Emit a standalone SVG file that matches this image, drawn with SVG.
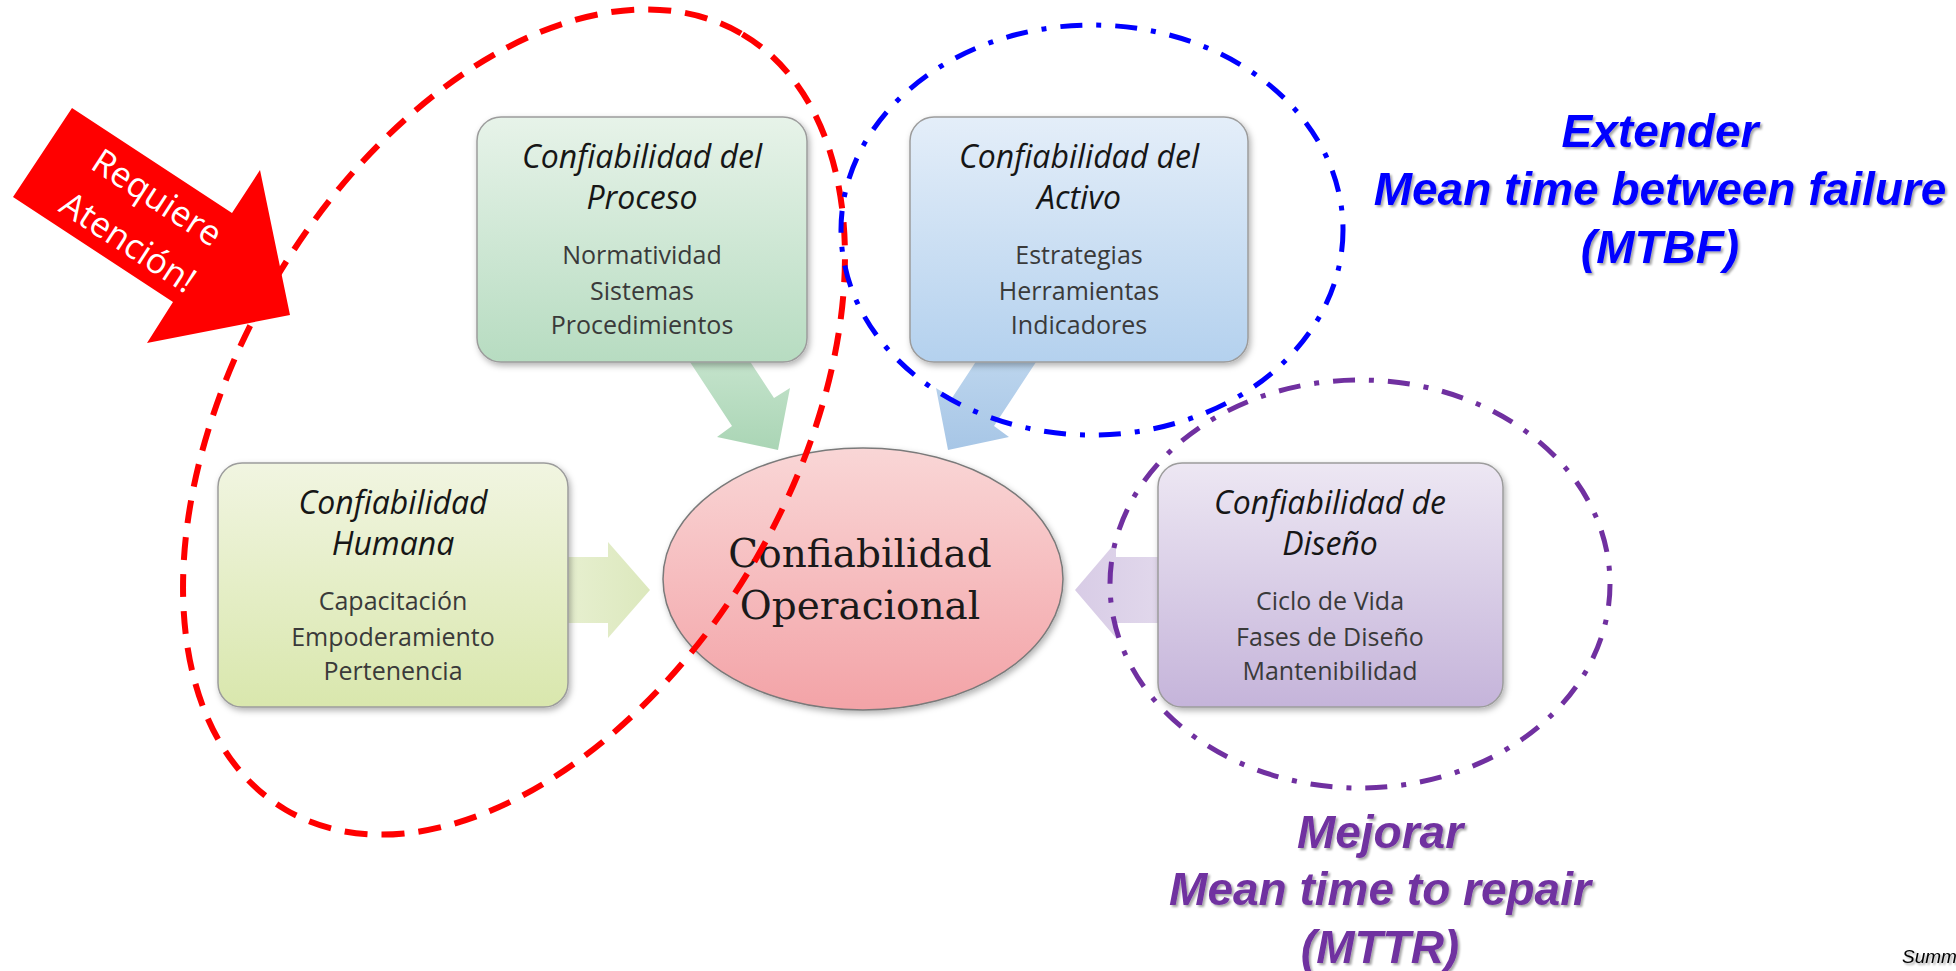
<svg xmlns="http://www.w3.org/2000/svg" width="1956" height="971" viewBox="0 0 1956 971">
<defs>
  <linearGradient id="gProc" x1="0" y1="0" x2="0" y2="1"><stop offset="0" stop-color="#e7f3e9"/><stop offset="1" stop-color="#b7dcc1"/></linearGradient>
  <linearGradient id="gAct" x1="0" y1="0" x2="0" y2="1"><stop offset="0" stop-color="#e4eef9"/><stop offset="1" stop-color="#b4d1ee"/></linearGradient>
  <linearGradient id="gHum" x1="0" y1="0" x2="0" y2="1"><stop offset="0" stop-color="#f1f5e1"/><stop offset="1" stop-color="#d9e7ad"/></linearGradient>
  <linearGradient id="gDis" x1="0" y1="0" x2="0" y2="1"><stop offset="0" stop-color="#ede7f3"/><stop offset="1" stop-color="#c5b4da"/></linearGradient>
  <linearGradient id="gCen" x1="0" y1="0" x2="0" y2="1"><stop offset="0" stop-color="#f9d6d6"/><stop offset="1" stop-color="#f3a3a7"/></linearGradient>
  <linearGradient id="aProc" x1="0" y1="0" x2="0" y2="1"><stop offset="0" stop-color="#cde8d3"/><stop offset="1" stop-color="#aad5b5"/></linearGradient>
  <linearGradient id="aAct" x1="0" y1="0" x2="0" y2="1"><stop offset="0" stop-color="#c3daf0"/><stop offset="1" stop-color="#a7c6e6"/></linearGradient>
  <linearGradient id="aHum" x1="0" y1="0" x2="1" y2="0"><stop offset="0" stop-color="#e8f0d2"/><stop offset="1" stop-color="#dce8bd"/></linearGradient>
  <linearGradient id="aDis" x1="0" y1="0" x2="1" y2="0"><stop offset="0" stop-color="#d8cce6"/><stop offset="1" stop-color="#e2d9ec"/></linearGradient>
  <filter id="sh" x="-10%" y="-10%" width="130%" height="130%"><feDropShadow dx="2" dy="3" stdDeviation="3" flood-color="#000" flood-opacity="0.3"/></filter>
  <filter id="tsh" x="-5%" y="-20%" width="115%" height="150%"><feDropShadow dx="2" dy="2" stdDeviation="1.2" flood-color="#000" flood-opacity="0.35"/></filter>
  <style>
    .box{stroke:#9c9c9c;stroke-width:1.5;filter:url(#sh)}
    .title{font-family:"Open Sans","Liberation Sans",sans-serif;font-style:italic;font-size:32px;fill:#161616;text-anchor:middle}
    .body{font-family:"Open Sans","Liberation Sans",sans-serif;font-size:25px;fill:#3a3a3a;text-anchor:middle}
    .center{font-family:"DejaVu Serif","Liberation Serif",serif;font-size:39px;fill:#1a1a1a;text-anchor:middle}
    .note{font-family:"Liberation Sans",Arial,sans-serif;font-style:italic;font-weight:bold;font-size:46px;text-anchor:middle;filter:url(#tsh)}
    .blue{fill:#0000ff}
    .purple{fill:#7030a0}
    .callout{font-family:"Open Sans","Liberation Sans",sans-serif;font-size:35px;fill:#ffffff;text-anchor:middle}
    .dashdot{fill:none;stroke-width:5;stroke-dasharray:22 14 5 14}
  </style>
</defs>
<rect width="1956" height="971" fill="#ffffff"/>

<g id="connectors">
  <polygon points="730,331 774,398 790,388 778,450 717,437 732,426 688,359" fill="url(#aProc)"/>
  <polygon points="996,331 952,398 936,388 948,450 1009,437 994,426 1038,359" fill="url(#aAct)"/>
  <polygon points="555,557 608,557 608,542 650,590 608,638 608,623 555,623" fill="url(#aHum)"/>
  <polygon points="1170,557 1116,557 1116,542 1075,590 1116,638 1116,623 1170,623" fill="url(#aDis)"/>
</g>

<g id="node-proceso">
  <rect class="box" x="477" y="117" width="330" height="245" rx="24" fill="url(#gProc)"/>
  <text class="title" x="642" y="168">Confiabilidad del</text>
  <text class="title" x="642" y="209">Proceso</text>
  <text class="body" x="642" y="264">Normatividad</text>
  <text class="body" x="642" y="300">Sistemas</text>
  <text class="body" x="642" y="334">Procedimientos</text>
</g>

<g id="node-activo">
  <rect class="box" x="910" y="117" width="338" height="245" rx="24" fill="url(#gAct)"/>
  <text class="title" x="1079" y="168">Confiabilidad del</text>
  <text class="title" x="1079" y="209">Activo</text>
  <text class="body" x="1079" y="264">Estrategias</text>
  <text class="body" x="1079" y="300">Herramientas</text>
  <text class="body" x="1079" y="334">Indicadores</text>
</g>

<g id="node-humana">
  <rect class="box" x="218" y="463" width="350" height="244" rx="24" fill="url(#gHum)"/>
  <text class="title" x="393" y="514">Confiabilidad</text>
  <text class="title" x="393" y="555">Humana</text>
  <text class="body" x="393" y="610">Capacitación</text>
  <text class="body" x="393" y="646">Empoderamiento</text>
  <text class="body" x="393" y="680">Pertenencia</text>
</g>

<g id="node-diseno">
  <rect class="box" x="1158" y="463" width="345" height="244" rx="24" fill="url(#gDis)"/>
  <text class="title" x="1330" y="514">Confiabilidad de</text>
  <text class="title" x="1330" y="555">Diseño</text>
  <text class="body" x="1330" y="610">Ciclo de Vida</text>
  <text class="body" x="1330" y="646">Fases de Diseño</text>
  <text class="body" x="1330" y="680">Mantenibilidad</text>
</g>

<g id="node-center">
  <ellipse cx="863" cy="579" rx="200" ry="131" fill="url(#gCen)" stroke="#7a7a7a" stroke-width="1.5" filter="url(#sh)"/>
  <text class="center" x="860" y="567">Confiabilidad</text>
  <text class="center" x="860" y="619">Operacional</text>
</g>

<g id="callout">
  <polygon points="72,108 232,213 260,170 290,315 147,343 173,302 13,197" fill="#ff0000"/>
  <g transform="translate(136,230) rotate(33)">
    <text class="callout" x="0" y="-26.5">Requiere</text>
    <text class="callout" x="0" y="26.5">Atención!</text>
  </g>
</g>

<g id="groupings">
  <ellipse cx="0" cy="0" rx="450" ry="278" transform="translate(514,422) rotate(-59.5)" fill="none" stroke="#ff0000" stroke-width="6" stroke-dasharray="23 14"/>
  <ellipse class="dashdot" cx="1092" cy="230" rx="251" ry="205" stroke="#0000ff"/>
  <ellipse class="dashdot" cx="1360" cy="584" rx="250" ry="204" stroke="#7030a0"/>
</g>

<g id="notes">
  <text class="note blue" x="1660" y="147">Extender</text>
  <text class="note blue" x="1660" y="205">Mean time between failure</text>
  <text class="note blue" x="1660" y="263">(MTBF)</text>
  <text class="note purple" x="1380" y="848">Mejorar</text>
  <text class="note purple" x="1380" y="905">Mean time to repair</text>
  <text class="note purple" x="1380" y="963">(MTTR)</text>
  <text x="1902" y="963" font-family="Liberation Sans, Arial, sans-serif" font-style="italic" font-size="19" fill="#000" filter="url(#tsh)">Summ</text>
</g>
</svg>
